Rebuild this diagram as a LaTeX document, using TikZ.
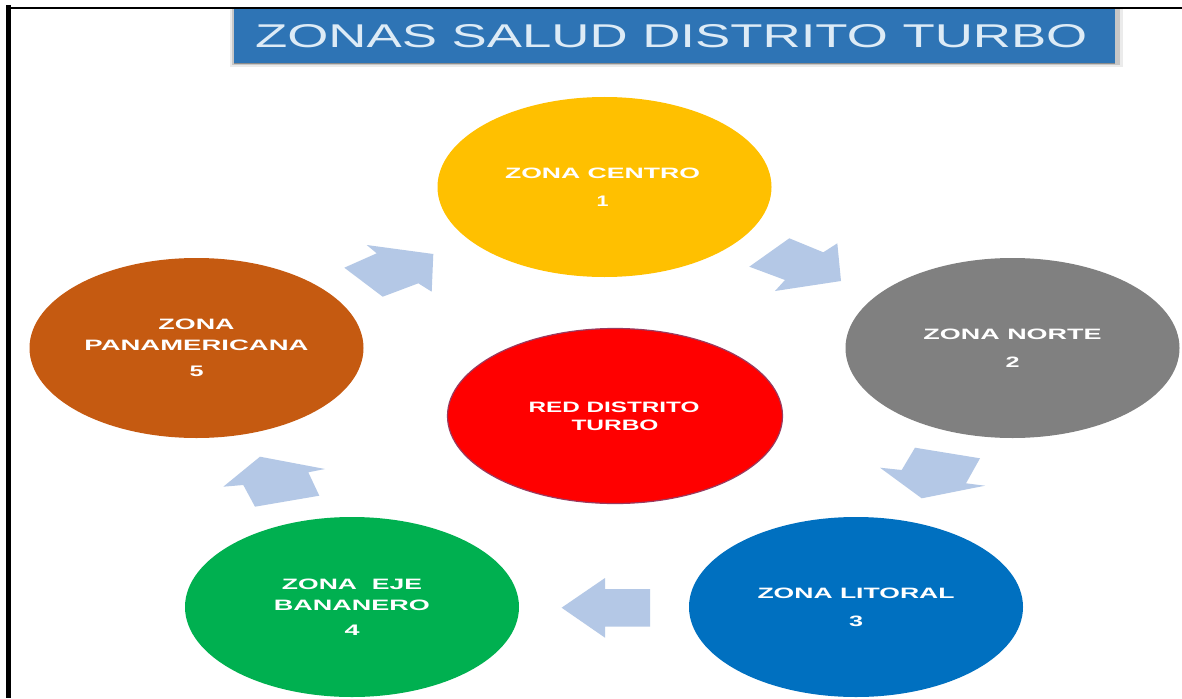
\documentclass[tikz,border=0pt]{standalone}
\usepackage{fontspec}
\usepackage{graphicx}
\setmainfont{Liberation Sans}
\usetikzlibrary{shapes.geometric}
\definecolor{titleblue}{HTML}{2E74B5}
\definecolor{titletext}{HTML}{DDEBF6}
\definecolor{arrowblue}{HTML}{B4C8E6}
\definecolor{zyellow}{HTML}{FFC000}
\definecolor{zgray}{HTML}{808080}
\definecolor{zblue}{HTML}{0070C0}
\definecolor{zgreen}{HTML}{00B050}
\definecolor{zorange}{HTML}{C55A11}
\definecolor{zred}{HTML}{FF0000}
\definecolor{redrim}{HTML}{9A3A5E}
\newcommand{\zl}[2]{\resizebox{#1pt}{10.5pt}{\textbf{#2}}}
\tikzset{
  zone/.style={ellipse,inner sep=0pt,minimum width=334pt,minimum height=180pt,
    text=white,align=center,font=\fontsize{10}{28}\selectfont},
  blockarrow/.style={fill=arrowblue,draw=none},
  framebar/.style={fill=black,draw=none}
}
\begin{document}
\begin{tikzpicture}[x=1pt,y=-1pt]
\useasboundingbox (0,0) rectangle (1182,698);
\fill[white] (0,0) rectangle (1182,698);
% frame
\fill[framebar] (6,5) rectangle (10.5,698);
\fill[framebar] (6,7) rectangle (1182,9);
% title
\fill[black!8] (230,9) rectangle (1123,67);
\fill[black!22] (231.5,9) rectangle (1120,65.5);
\fill[black!45] (234,9) rectangle (1115,64.5);
\node[fill=titleblue,minimum width=881pt,minimum height=54pt,inner sep=0pt,text=titletext,anchor=north west]
  (title) at (234,9) {\hspace*{-7pt}\resizebox{832pt}{23pt}{ZONAS SALUD DISTRITO TURBO}};
% zones
\node[zone,fill=zyellow] (z1) at (604.5,187) {\hspace*{-4pt}\zl{195}{ZONA CENTRO}\\\hspace*{-4pt}\zl{12}{1}};
\node[zone,fill=zgray] (z2) at (1012.5,348) {\zl{178}{ZONA NORTE}\\\zl{14}{2}};
\node[zone,fill=zblue] (z3) at (856,607) {\zl{197}{ZONA LITORAL}\\\zl{14}{3}};
\node[zone,fill=zgreen] (z4) at (352,607) {\zl{140}{ZONA\ \ EJE}\\[-7pt]\zl{156}{BANANERO}\\[-3pt]\zl{15}{4}};
\node[zone,fill=zorange] (z5) at (196.5,348) {\zl{76}{ZONA}\\[-7pt]\zl{224}{PANAMERICANA}\\[-2pt]\zl{14}{5}};
\node[zone,fill=zred,draw=redrim,line width=1.2pt,minimum width=335pt,minimum height=175pt,
  font=\fontsize{10}{18}\selectfont] (red) at (615,416) {\hspace*{-2pt}\zl{171}{RED DISTRITO}\\\zl{87}{TURBO}};
% block arrows
\fill[blockarrow] (789.3,238.3) -- (823.3,252.3) -- (837.3,243.3) -- (841,281) -- (775,291) -- (785,280) -- (749.3,266.7) -- cycle;
\fill[blockarrow] (915,447.7) -- (980,458.3) -- (966,483.3) -- (985,485.7) -- (921.7,498.3) -- (880,467.7) -- (901.7,470) -- cycle;
\fill[blockarrow] (561.6,607.7) -- (605,578) -- (605,589) -- (650,589) -- (650,626.7) -- (605,626.7) -- (605,637.7) -- cycle;
\fill[blockarrow] (260,456.7) -- (325,469) -- (308.3,472.3) -- (319.3,495.7) -- (255,506.7) -- (243.3,485) -- (223.3,486.7) -- cycle;
\fill[blockarrow] (366.7,245) -- (433.3,254) -- (431.7,291.7) -- (418.3,283.3) -- (382.7,296.7) -- (344.3,267.7) -- (376.7,253.3) -- cycle;
\end{tikzpicture}
\end{document}
